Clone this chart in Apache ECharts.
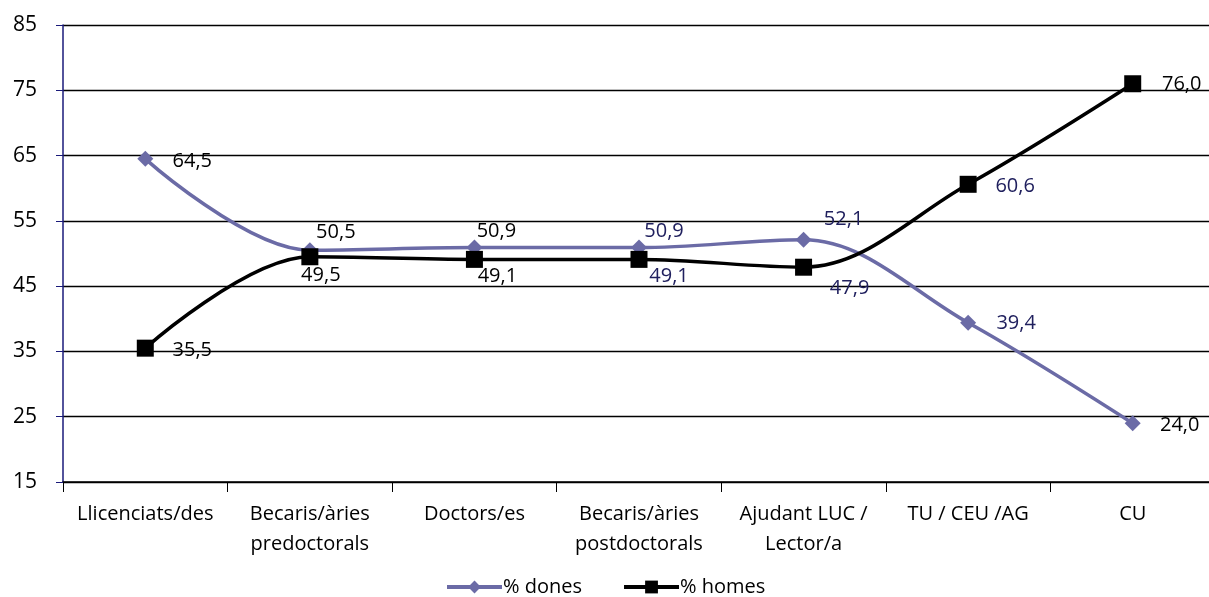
<!DOCTYPE html>
<html><head><meta charset="utf-8">
<script src="https://cdn.jsdelivr.net/npm/echarts@6/dist/echarts.min.js"></script>
<style>html,body{margin:0;padding:0;background:#fff}#c{width:1209px;height:597px}</style>
</head><body><div id="c"></div>
<script>
const categories = ['Llicenciats/des', 'Becaris/àries\npredoctorals', 'Doctors/es', 'Becaris/àries\npostdoctorals', 'Ajudant LUC /\nLector/a', 'TU / CEU /AG', 'CU'];
const dones = [64.5, 50.5, 50.9, 50.9, 52.1, 39.4, 24.0];
const homes = [35.5, 49.5, 49.1, 49.1, 47.9, 60.6, 76.0];
const yTicks = [15, 25, 35, 45, 55, 65, 75, 85];

const FONT = '"Open Sans", Lato, sans-serif';
const NAVY = '#20205e';
const donesLabelOff = [[47,2],[26,-18],[22,-16],[25,-16],[40,-20],[48,1],[47,2]];
const donesLabelCol = ['#000','#000','#000',NAVY,NAVY,NAVY,'#000'];
const homesLabelOff = [[47,2],[11,19],[23,17],[30,17],[46,21],[47,2],[49,1]];
const homesLabelCol = ['#000','#000','#000',NAVY,NAVY,NAVY,'#000'];

function mk(vals, off, col) {
  return vals.map((v, i) => ({
    value: v,
    label: { position: 'inside', align: 'center', verticalAlign: 'middle', offset: off[i], color: col[i] }
  }));
}

const chart = echarts.init(document.getElementById('c'), null, {renderer: 'canvas'});
chart.setOption({
  animation: false,
  textStyle: { fontFamily: FONT },
  grid: { left: 63, width: 1152, top: 25, bottom: 115, outerBoundsMode: 'none', containLabel: false },
  legend: {
    top: 572, left: 440, itemWidth: 55, itemHeight: 16, itemGap: 40,
    lineStyle: { width: 4 },
    textStyle: { fontSize: 20, color: '#000', fontFamily: FONT, padding: [0,0,0,-4] },
    data: ['% dones', '% homes']
  },
  xAxis: {
    type: 'category', data: categories, boundaryGap: true,
    axisLine: { lineStyle: { color: '#000', width: 1.5 } },
    axisTick: { show: true, length: 10, inside: false, lineStyle: { color: '#000' } },
    axisLabel: { fontSize: 20, color: '#000', margin: 17, lineHeight: 30, interval: 0, fontFamily: FONT }
  },
  yAxis: {
    type: 'value', min: 15, max: 85, interval: 10,
    axisLine: { show: true, lineStyle: { color: '#1a1a7a', width: 1.5 } },
    axisTick: { show: true, length: 7, lineStyle: { color: '#1a1a7a' } },
    axisLabel: { fontSize: 21, color: '#000', margin: 26, fontFamily: FONT,
      formatter: v => yTicks.includes(v) ? String(v) : '' },
    splitLine: { lineStyle: { color: '#000', width: 1.3 } }
  },
  series: [
    {
      name: '% dones', type: 'line', smooth: 0.35,
      data: mk(dones, donesLabelOff, donesLabelCol),
      symbol: 'diamond', symbolSize: 16,
      lineStyle: { color: '#6b6ba6', width: 3.5 },
      itemStyle: { color: '#6b6ba6' },
      label: { show: true, fontSize: 20, fontFamily: FONT, formatter: p => p.value.toFixed(1).replace('.', ',') },
      z: 2
    },
    {
      name: '% homes', type: 'line', smooth: 0.35,
      data: mk(homes, homesLabelOff, homesLabelCol),
      symbol: 'rect', symbolSize: 17,
      lineStyle: { color: '#000', width: 3.5 },
      itemStyle: { color: '#000' },
      label: { show: true, fontSize: 20, fontFamily: FONT, formatter: p => p.value.toFixed(1).replace('.', ',') },
      z: 3
    }
  ]
});
</script></body></html>
